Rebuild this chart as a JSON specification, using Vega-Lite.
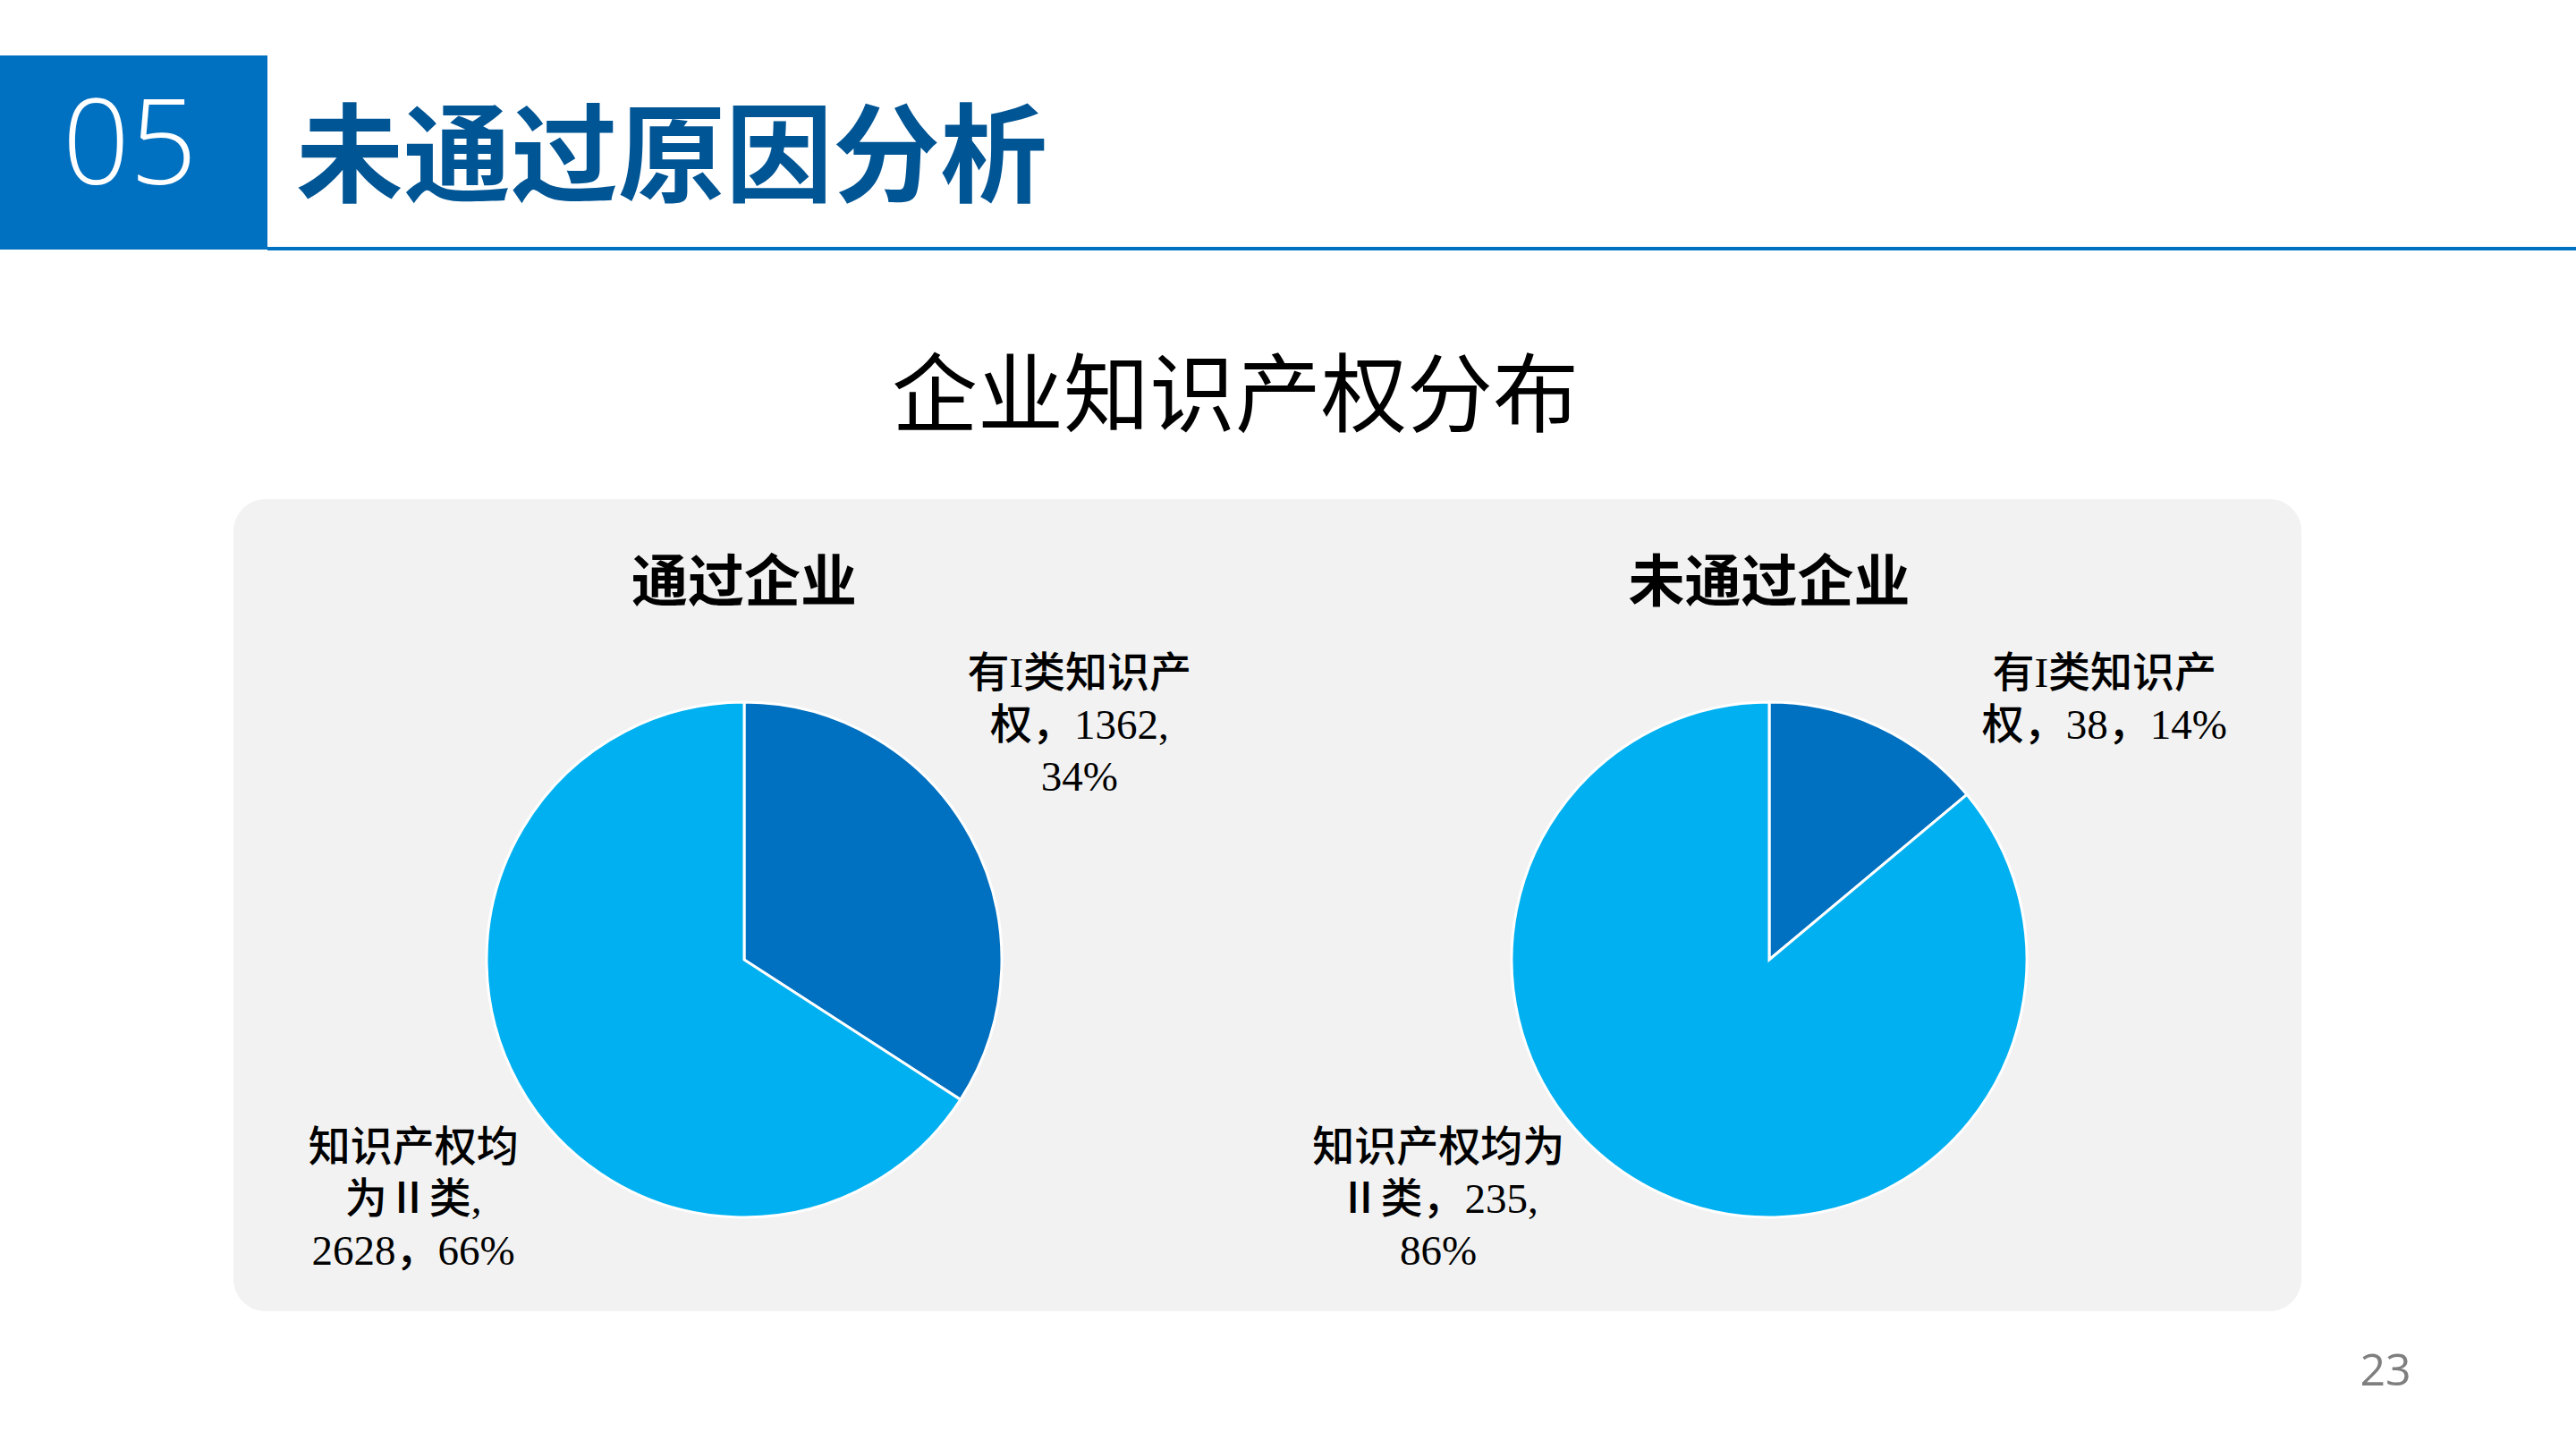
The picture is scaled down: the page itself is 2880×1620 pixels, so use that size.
{
  "$schema": "https://vega.github.io/schema/vega-lite/v6.json",
  "width": 2880,
  "height": 1620,
  "autosize": {"type": "fit", "contains": "padding"},
  "padding": 0,
  "background": "white",
  "config": {"view": {"stroke": null}},
  "data": {
    "values": [
      {"企业": "通过企业", "类别": "有I类知识产权", "数量": 1362, "标签": "有I类知识产\n权，1362,\n34%"},
      {"企业": "通过企业", "类别": "知识产权均为Ⅱ类", "数量": 2628, "标签": "知识产权均\n为Ⅱ类,\n2628，66%"},
      {"企业": "未通过企业", "类别": "有I类知识产权", "数量": 38, "标签": "有I类知识产\n权，38，14%"},
      {"企业": "未通过企业", "类别": "知识产权均为Ⅱ类", "数量": 235, "标签": "知识产权均为\nⅡ类，235,\n86%"}
    ]
  },
  "resolve": {"scale": {"theta": "independent"}},
  "layer": [
    {
      "data": {"values": [{}]},
      "mark": {"type": "rect", "x": 261, "x2": 2573, "y": 558, "y2": 1466, "fill": "#F2F2F2", "cornerRadius": 36},
      "encoding": {}
    },
    {
      "data": {"values": [{}]},
      "mark": {"type": "rect", "x": 0, "x2": 299, "y": 62, "y2": 279, "fill": "#0070C0"},
      "encoding": {}
    },
    {
      "data": {"values": [{}]},
      "mark": {"type": "rect", "x": 299, "x2": 2880, "y": 276, "y2": 280, "fill": "#0070C0"},
      "encoding": {}
    },
    {
      "data": {"values": [{}]},
      "mark": {"type": "text", "text": "05", "x": 145, "y": 166, "align": "center", "baseline": "middle", "font": "Open Sans", "fontSize": 132, "fontWeight": 300, "fill": "white"},
      "encoding": {}
    },
    {
      "data": {"values": [{}]},
      "mark": {"type": "text", "text": "未通过原因分析", "x": 331, "y": 181, "align": "left", "baseline": "middle", "font": "Noto Sans CJK SC", "fontSize": 120, "fontWeight": "bold", "fill": "#005595"},
      "encoding": {}
    },
    {
      "data": {"values": [{}]},
      "mark": {"type": "text", "text": "企业知识产权分布", "x": 1381, "y": 446, "align": "center", "baseline": "middle", "font": "Noto Sans CJK SC", "fontSize": 96, "fontWeight": "normal", "fill": "#000000"},
      "encoding": {}
    },
    {
      "data": {"values": [{}]},
      "mark": {"type": "text", "text": "23", "x": 2667, "y": 1534, "align": "center", "baseline": "middle", "font": "Open Sans", "fontSize": 50, "fill": "#7F7F7F"},
      "encoding": {}
    },
    {
      "transform": [{"filter": {"field": "企业", "equal": "通过企业"}}],
      "mark": {"type": "arc", "outerRadius": 288, "stroke": "white", "strokeWidth": 3},
      "encoding": {
        "x": {"field": "企业", "type": "nominal", "scale": {"type": "point", "domain": ["通过企业", "未通过企业"], "range": [832, 1978], "padding": 0}, "axis": null},
        "y": {"field": "企业", "type": "nominal", "scale": {"type": "point", "domain": ["通过企业", "未通过企业"], "range": [1073, 1073], "padding": 0}, "axis": null},
        "theta": {"field": "数量", "type": "quantitative", "stack": true},
        "order": {"field": "类别", "type": "ordinal", "sort": "ascending"},
        "color": {"field": "类别", "type": "nominal", "scale": {"domain": ["有I类知识产权", "知识产权均为Ⅱ类"], "range": ["#0070C0", "#00B0F0"]}, "legend": null}
      }
    },
    {
      "transform": [{"filter": {"field": "企业", "equal": "未通过企业"}}],
      "mark": {"type": "arc", "outerRadius": 288, "stroke": "white", "strokeWidth": 3},
      "encoding": {
        "x": {"field": "企业", "type": "nominal", "scale": {"type": "point", "domain": ["通过企业", "未通过企业"], "range": [832, 1978], "padding": 0}, "axis": null},
        "y": {"field": "企业", "type": "nominal", "scale": {"type": "point", "domain": ["通过企业", "未通过企业"], "range": [1073, 1073], "padding": 0}, "axis": null},
        "theta": {"field": "数量", "type": "quantitative", "stack": true},
        "order": {"field": "类别", "type": "ordinal", "sort": "ascending"},
        "color": {"field": "类别", "type": "nominal", "scale": {"domain": ["有I类知识产权", "知识产权均为Ⅱ类"], "range": ["#0070C0", "#00B0F0"]}, "legend": null}
      }
    },
    {
      "transform": [{"filter": {"field": "类别", "equal": "有I类知识产权"}}],
      "mark": {"type": "text", "dy": -420, "align": "center", "baseline": "middle", "font": "Noto Sans CJK SC", "fontSize": 63, "fontWeight": "bold", "fill": "#000000"},
      "encoding": {
        "x": {"field": "企业", "type": "nominal", "scale": {"type": "point", "domain": ["通过企业", "未通过企业"], "range": [832, 1978], "padding": 0}, "axis": null},
        "y": {"field": "企业", "type": "nominal", "scale": {"type": "point", "domain": ["通过企业", "未通过企业"], "range": [1073, 1073], "padding": 0}, "axis": null},
        "text": {"field": "企业", "type": "nominal"}
      }
    },
    {
      "mark": {"type": "text", "lineBreak": "\n", "lineHeight": 58, "align": "center", "baseline": "middle", "font": "Liberation Serif, Noto Sans CJK SC", "fontSize": 47, "fontWeight": 500, "fill": "#000000"},
      "encoding": {
        "x": {"field": "企业", "type": "nominal", "scale": {"type": "point", "domain": ["通过企业", "未通过企业"], "range": [832, 1978], "padding": 0}, "axis": null},
        "y": {"field": "企业", "type": "nominal", "scale": {"type": "point", "domain": ["通过企业", "未通过企业"], "range": [1073, 1073], "padding": 0}, "axis": null},
        "theta": {"field": "类别", "type": "nominal", "scale": {"type": "point", "domain": ["有I类知识产权", "知识产权均为Ⅱ类"], "range": [0.866, 4.193], "padding": 0}},
        "radius": {"field": "类别", "type": "nominal", "scale": {"type": "point", "domain": ["有I类知识产权", "知识产权均为Ⅱ类"], "range": [492, 426], "padding": 0}},
        "text": {"field": "标签", "type": "nominal"}
      }
    }
  ]
}
